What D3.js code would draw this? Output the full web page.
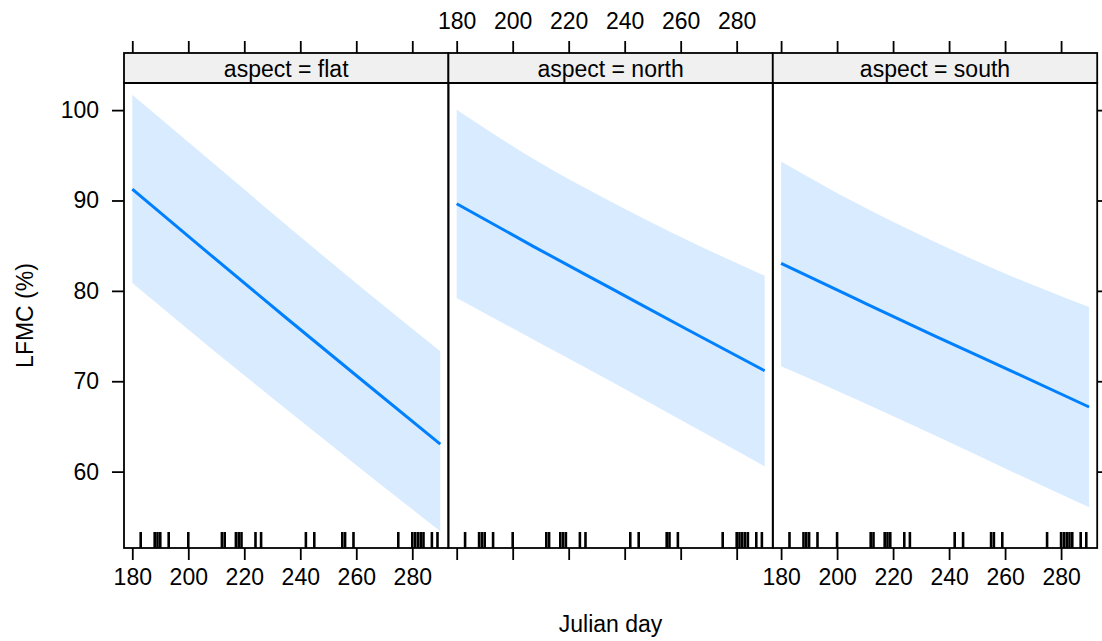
<!DOCTYPE html>
<html>
<head>
<meta charset="utf-8">
<script src="https://cdn.jsdelivr.net/npm/d3@7"></script>
<style>
  body { margin: 0; background: #fff; }
  text { font-family: "Liberation Sans", Arial, sans-serif; }
</style>
</head>
<body>
<svg width="1102" height="641"></svg>
<script>
// panels and fitted effect values
var aspects = ["flat", "north", "south"];
var days = [180, 207.5, 235, 262.5, 290];
var fitFlat = [91.26, 84.1, 77.0, 70.0, 63.05];
var upperFlat = [101.69, 94.5, 87.3, 80.2, 73.31];
var lowerFlat = [80.86, 73.8, 66.9, 60.1, 53.4];
var fitNorth = [89.64, 84.9, 80.3, 75.7, 71.16];
var upperNorth = [100.04, 94.6, 89.9, 85.6, 81.67];
var lowerNorth = [79.2, 74.6, 70.0, 65.3, 60.59];
var fitSouth = [83.04, 79.0, 75.0, 71.1, 67.15];
var upperSouth = [94.32, 89.6, 85.4, 81.6, 78.21];
var lowerSouth = [71.65, 67.9, 64.0, 60.0, 56.05];
// observed julian days (rug)
var rugDays = [183, 188, 189, 190, 193, 200, 212, 213, 217, 218, 219, 224, 226,
               242, 245, 255, 256, 259, 275, 280, 281, 282, 283, 284, 287, 289];
var xTicks = [180, 200, 220, 240, 260, 280];
var yTicks = [60, 70, 80, 90, 100];

var fits = [fitFlat, fitNorth, fitSouth];
var uppers = [upperFlat, upperNorth, upperSouth];
var lowers = [lowerFlat, lowerNorth, lowerSouth];

var svg = d3.select("svg");
var left = 124, panelW = 324.4, plotTop = 83, plotBottom = 548, stripTop = 53;
var blue = "#0080ff";
var fs = 23;

var x = d3.scaleLinear().domain([177.04, 292.9]).range([0, panelW]);
var y = d3.scaleLinear().domain([51.55, 103.0]).range([plotBottom, plotTop]);

function styleAxis(ax) {
  ax.select(".domain").remove();
  ax.selectAll("line").attr("stroke-width", 1.8);
  ax.selectAll("text").attr("font-size", fs).attr("fill", "#000")
    .attr("font-family", "'Liberation Sans', Arial, sans-serif");
}

aspects.forEach(function(a, i) {
  var g = svg.append("g").attr("transform", "translate(" + (left + i * panelW) + ",0)");
  var rows = days.map(function(d, j) {
    return {day: d, fit: fits[i][j], lo: lowers[i][j], hi: uppers[i][j]};
  });

  g.append("path")
    .datum(rows)
    .attr("fill", "rgba(0,128,255,0.15)")
    .attr("d", d3.area().curve(d3.curveMonotoneX)
      .x(function(d) { return x(d.day); })
      .y0(function(d) { return y(d.lo); })
      .y1(function(d) { return y(d.hi); }));

  g.append("path")
    .datum(rows)
    .attr("fill", "none")
    .attr("stroke", blue)
    .attr("stroke-width", 3)
    .attr("d", d3.line().curve(d3.curveMonotoneX)
      .x(function(d) { return x(d.day); })
      .y(function(d) { return y(d.fit); }));

  // rug
  g.selectAll(".rug")
    .data(rugDays)
    .enter().append("line")
      .attr("x1", function(d) { return x(d); })
      .attr("x2", function(d) { return x(d); })
      .attr("y1", plotBottom - 16)
      .attr("y2", plotBottom)
      .attr("stroke", "#000")
      .attr("stroke-width", 2.6);

  // strip
  g.append("rect")
    .attr("x", 0).attr("y", stripTop)
    .attr("width", panelW).attr("height", plotTop - stripTop)
    .attr("fill", "#f0f0f0")
    .attr("stroke", "#000").attr("stroke-width", 1.8);
  g.append("text")
    .attr("x", panelW / 2).attr("y", (stripTop + plotTop) / 2)
    .attr("dy", "0.38em")
    .attr("text-anchor", "middle")
    .attr("font-size", fs)
    .text("aspect = " + a);

  // panel frame
  g.append("rect")
    .attr("x", 0).attr("y", plotTop)
    .attr("width", panelW).attr("height", plotBottom - plotTop)
    .attr("fill", "none")
    .attr("stroke", "#000").attr("stroke-width", 1.8);

  // bottom axis: labels on panels 1 and 3
  styleAxis(g.append("g")
    .attr("transform", "translate(0," + plotBottom + ")")
    .call(d3.axisBottom(x).tickValues(xTicks).tickSize(12).tickPadding(9)
      .tickFormat(i === 1 ? "" : d3.format("d"))));
  // top axis: labels on panel 2
  styleAxis(g.append("g")
    .attr("transform", "translate(0," + stripTop + ")")
    .call(d3.axisTop(x).tickValues(xTicks).tickSize(12).tickPadding(12)
      .tickFormat(i === 1 ? d3.format("d") : "")));
});

// y axes
styleAxis(svg.append("g")
  .attr("transform", "translate(" + left + ",0)")
  .call(d3.axisLeft(y).tickValues(yTicks).tickSize(12).tickPadding(13)));
styleAxis(svg.append("g")
  .attr("transform", "translate(" + (left + 3 * panelW) + ",0)")
  .call(d3.axisRight(y).tickValues(yTicks).tickSize(12).tickFormat("")));

svg.append("text")
  .attr("transform", "translate(33," + ((plotTop + plotBottom) / 2) + ") rotate(-90)")
  .attr("text-anchor", "middle")
  .attr("font-size", fs)
  .text("LFMC (%)");

svg.append("text")
  .attr("x", left + 1.5 * panelW).attr("y", 632)
  .attr("text-anchor", "middle")
  .attr("font-size", fs)
  .text("Julian day");
</script>
</body>
</html>
